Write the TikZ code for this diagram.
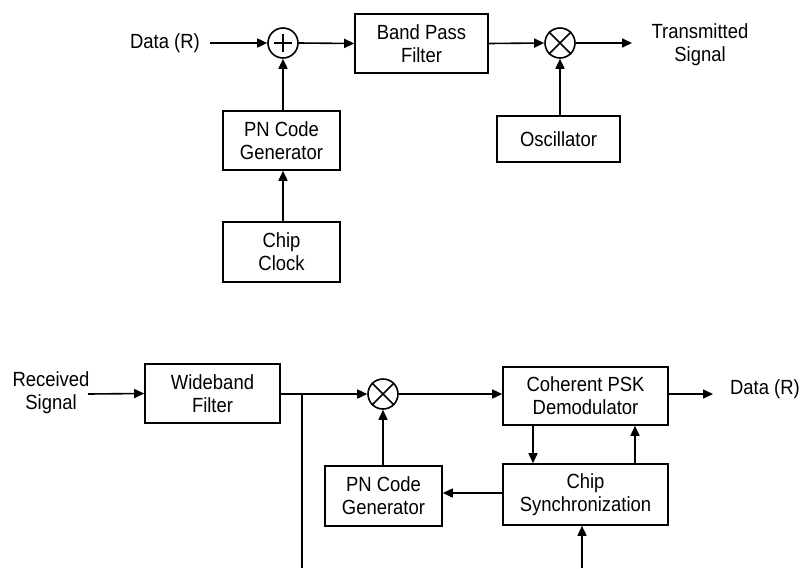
\documentclass[tikz,border=0pt]{standalone}
\usepackage{fontspec}
\setmainfont{Liberation Sans}[FakeStretch=0.9]
\usetikzlibrary{arrows.meta,calc}

\tikzset{
  block/.style={draw, line width=1.6pt, align=center, inner sep=0pt,
                font=\fontsize{20.5}{23}\selectfont},
  label/.style={align=center, inner sep=0pt, font=\fontsize{20.5}{23}\selectfont},
  junction/.style={draw, circle, line width=1.6pt, minimum size=30pt, inner sep=0pt},
  flow/.style={line width=1.6pt, -{Triangle[length=10pt,width=9pt]}},
  wire/.style={line width=1.6pt}
}

\begin{document}
\begin{tikzpicture}[x=1pt, y=-1pt]
\useasboundingbox (0,0) rectangle (809,568);

% ---------------- transmitter ----------------
\node[label] (din) at (165,43) {Data (R)};
\node[junction] (add) at (283,43) {};
\draw[line width=2pt] ($(add.center)+(-9,0)$) -- ($(add.center)+(9,0)$)
      ($(add.center)+(0,-9)$) -- ($(add.center)+(0,9)$);
\node[block, minimum width=133pt, minimum height=59pt] (bpf) at (421.5,43.5) {Band Pass\\Filter};
\node[junction] (mixt) at (560,43) {};
\draw[line width=1.6pt] (mixt.45) -- (mixt.225) (mixt.135) -- (mixt.315);
\node[label] (tx) at (700,45) {Transmitted\\Signal};
\coordinate (txend) at (632,43);
\node[block, minimum width=123pt, minimum height=46pt] (osc) at (558.5,139) {Oscillator};
\node[block, minimum width=117pt, minimum height=59pt] (pnt) at (281.5,140.5) {PN Code\\Generator};
\node[block, minimum width=117pt, minimum height=60pt] (clk) at (281.5,252) {Chip\\Clock};

\draw[flow] (din.east) ++(10,0) -- (add.west);
\draw[flow] (add.east) -- (bpf.west);
\draw[flow] (bpf.east) -- (mixt.west);
\draw[flow] (mixt.east) -- (txend);
\draw[flow] (osc.north -| mixt) -- (mixt.south);
\draw[flow] (pnt.north -| add) -- (add.south);
\draw[flow] (clk.north -| add) -- (pnt.south -| add);

% ---------------- receiver ----------------
\node[label] (rx) at (51,393) {Received\\Signal};
\coordinate (rxstart) at (88,394);
\node[block, minimum width=135pt, minimum height=59pt] (wbf) at (212.5,393.5) {Wideband\\Filter};
\node[junction] (mixr) at (383,394) {};
\draw[line width=1.6pt] (mixr.45) -- (mixr.225) (mixr.135) -- (mixr.315);
\node[block, minimum width=165pt, minimum height=58pt] (psk) at (585.5,396) {Coherent PSK\\Demodulator};
\coordinate (dend) at (713,394);
\node[label] (dout) at (765,389) {Data (R)};
\node[block, minimum width=117pt, minimum height=60pt] (pnr) at (383.5,496) {PN Code\\Generator};
\node[block, minimum width=165pt, minimum height=61pt] (sync) at (585.5,494.5) {Chip\\Synchronization};
\coordinate (tap) at (302,394);
\coordinate (tapend) at (302,568);
\coordinate (syncin) at (582,568);

\draw[flow] (rxstart) -- (wbf.west);
\draw[flow] (wbf.east |- mixr) -- (mixr.west);
\draw[wire] (tap) -- (tapend);
\draw[flow] (mixr.east) -- (psk.west |- mixr);
\draw[flow] (psk.east |- dend) -- (dend);
\draw[flow] (pnr.north -| mixr) -- (mixr.south);
\draw[flow] (psk.south -| 533,0) -- (sync.north -| 533,0);
\draw[flow] (sync.north -| 635,0) -- (psk.south -| 635,0);
\draw[flow] (sync.west |- 0,493) -- (pnr.east |- 0,493);
\draw[flow] (syncin) -- (sync.south -| syncin);
\end{tikzpicture}
\end{document}
